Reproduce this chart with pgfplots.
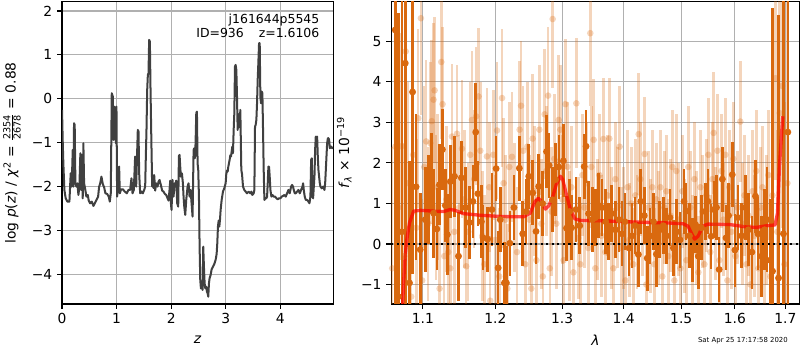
\documentclass[border=0pt]{standalone}
\usepackage{fontspec}
\setmainfont{DejaVu Sans}
\usepackage{pgfplots}
\pgfplotsset{compat=1.18}
\usepackage{pgfplotstable}

\definecolor{pzline}{HTML}{404040}
\definecolor{dorange}{HTML}{D9690F}
\definecolor{gridc}{HTML}{B0B0B0}

\pgfplotsset{
  mpl/.style={
    scale only axis,
    axis line style={line width=0.8pt},
    tick align=outside,
    xtick pos=bottom, ytick pos=left,
    major tick length=3.5pt,
    every tick/.style={black, line width=0.8pt},
    grid=major,
    major grid style={gridc, line width=0.8pt},
    tick label style={font=\fontsize{10}{12}\selectfont},
    label style={font=\fontsize{10}{12}\selectfont},
  }
}

\pgfplotstableread{
x y e
1.0640 5.28 7.0
1.0680 -1.30 7.0
1.0725 0.30 6.5
1.0769 4.46 6.0
1.0824 -0.96 3.0
1.0864 3.75 4.5
1.0910 1.41 1.8
1.0964 -0.14 1.4
1.1030 0.60 1.3
1.1070 1.10 1.1
1.1110 1.73 1.0
1.1141 0.76 1.1
1.1185 0.37 1.0
1.1220 1.46 1.0
1.1260 2.33 1.0
1.1300 0.95 0.9
1.1327 0.23 1.0
1.1367 1.54 0.9
1.1425 1.67 1.0
1.1480 -0.30 1.1
1.1520 1.63 0.9
1.1580 0.90 1.0
1.1630 0.53 0.9
1.1680 1.05 0.9
1.1720 2.76 1.2
1.1750 1.24 0.8
1.1800 0.55 0.9
1.1825 0.15 0.8
1.1890 0.12 0.8
1.1950 0.85 0.9
1.2010 1.86 0.8
1.2040 -0.59 0.9
1.2070 0.60 0.8
1.2130 -0.96 1.0
1.2160 -0.96 0.9
1.2210 0.02 0.8
1.2270 0.90 0.8
1.2350 1.87 0.8
1.2400 0.25 0.8
1.2450 0.80 0.8
1.2490 1.67 0.8
1.2550 1.26 0.8
1.2600 0.31 0.8
1.2640 1.42 0.8
1.2700 1.00 0.8
1.2760 2.28 0.9
1.2800 1.94 0.8
1.2850 1.09 0.8
1.2900 1.59 0.9
1.2950 1.90 0.8
1.3020 2.05 0.9
1.3070 0.39 0.8
1.3120 0.80 0.8
1.3150 0.40 0.8
1.3220 0.85 0.8
1.3280 0.45 0.7
1.3350 1.91 0.8
1.3380 2.41 0.9
1.3420 0.75 0.8
1.3480 0.60 0.8
1.3530 0.65 0.7
1.3580 0.95 0.8
1.3640 0.90 0.7
1.3700 0.55 0.8
1.3750 0.30 0.7
1.3800 0.75 0.7
1.3860 0.35 0.7
1.3920 0.60 0.8
1.3970 0.25 0.8
1.4020 0.55 0.7
1.4090 -0.10 0.7
1.4140 0.20 0.8
1.4190 0.45 0.7
1.4248 -0.26 0.8
1.4290 1.05 0.8
1.4350 0.70 0.7
1.4400 -0.35 0.8
1.4450 0.20 0.7
1.4510 0.55 0.7
1.4560 -0.25 0.8
1.4620 0.35 0.7
1.4680 0.45 0.7
1.4740 0.20 0.7
1.4800 0.65 0.7
1.4860 -0.10 0.7
1.4920 0.30 0.8
1.4980 0.10 0.7
1.5050 1.05 0.8
1.5090 0.81 0.7
1.5150 0.20 0.8
1.5210 -0.15 0.8
1.5260 0.48 0.7
1.5310 -0.30 0.8
1.5370 0.40 0.8
1.5440 0.80 0.7
1.5490 1.05 0.8
1.5550 0.19 0.8
1.5600 0.85 0.7
1.5650 0.90 0.8
1.5700 -0.63 0.8
1.5760 1.60 0.8
1.5830 0.15 0.8
1.5880 0.70 0.8
1.5950 1.71 0.8
1.6000 -0.15 0.9
1.6060 0.65 0.8
1.6130 0.20 0.8
1.6200 0.90 0.8
1.6260 0.35 0.9
1.6330 -0.20 0.9
1.6400 1.18 0.9
1.6450 0.25 0.9
1.6520 -0.30 1.0
1.6580 0.35 1.0
1.6630 0.60 1.3
1.6690 -0.40 1.5
1.6740 -0.67 6.5
1.6860 -0.84 6.5
1.6960 0.25 6.0
1.7050 2.76 8.0
}\darkdata

\pgfplotstableread{
x y e
1.0602 -0.60 3.0
1.0640 2.40 3.0
1.0678 0.90 3.0
1.0717 2.41 2.8
1.0756 -0.30 2.8
1.0775 4.75 2.8
1.0807 1.50 2.5
1.0846 -1.30 2.5
1.0872 2.20 2.4
1.0912 0.40 2.2
1.0938 3.10 2.2
1.0973 5.57 2.4
1.0990 -0.90 2.0
1.1017 1.90 2.0
1.1043 2.53 2.0
1.1070 0.50 1.9
1.1097 2.49 2.0
1.1117 3.03 2.0
1.1141 3.56 1.9
1.1155 3.79 1.8
1.1177 0.90 1.8
1.1197 1.40 1.8
1.1222 -1.10 1.8
1.1245 4.49 1.9
1.1262 3.45 1.9
1.1285 -0.30 1.7
1.1313 1.10 1.8
1.1340 -0.20 1.7
1.1367 -0.60 1.8
1.1390 2.65 1.8
1.1422 0.30 1.8
1.1459 2.72 1.7
1.1490 0.90 1.8
1.1528 2.35 1.7
1.1560 1.10 1.7
1.1587 -0.55 1.8
1.1615 0.30 1.7
1.1643 2.20 1.8
1.1667 3.06 1.7
1.1699 1.60 1.7
1.1727 3.15 1.7
1.1760 3.64 1.7
1.1784 2.30 1.7
1.1812 0.20 1.6
1.1841 -0.50 1.7
1.1879 2.16 1.7
1.1912 1.40 1.6
1.1926 -1.40 1.6
1.1970 2.20 1.6
1.1998 0.10 1.6
1.2023 2.80 1.7
1.2056 -0.80 1.7
1.2096 3.60 1.7
1.2119 1.50 1.6
1.2144 0.60 1.6
1.2173 -1.10 1.6
1.2202 1.90 1.6
1.2241 2.15 1.6
1.2275 0.90 1.6
1.2315 -0.20 1.6
1.2354 2.82 1.7
1.2375 3.41 1.6
1.2408 2.30 1.6
1.2438 -0.50 1.6
1.2468 2.40 1.6
1.2499 0.60 1.6
1.2529 -1.10 1.6
1.2549 2.60 1.6
1.2574 1.30 1.6
1.2605 -0.40 1.6
1.2650 2.82 1.6
1.2680 0.50 1.6
1.2703 -0.80 1.6
1.2731 3.20 1.6
1.2757 1.80 1.6
1.2783 3.66 1.7
1.2810 -0.60 1.6
1.2833 0.80 1.6
1.2854 5.55 1.7
1.2880 2.10 1.6
1.2911 0.50 1.6
1.2947 3.06 1.6
1.2973 2.82 1.6
1.3004 1.10 1.6
1.3025 -0.40 1.6
1.3052 3.45 1.6
1.3083 1.90 1.6
1.3114 0.20 1.6
1.3146 1.40 1.5
1.3178 -0.70 1.5
1.3225 3.47 1.6
1.3257 0.15 1.5
1.3289 -0.50 1.5
1.3321 1.70 1.5
1.3353 0.90 1.5
1.3385 1.50 1.5
1.3417 -0.10 1.5
1.3449 5.20 1.8
1.3465 1.90 1.5
1.3503 2.57 1.5
1.3530 -0.60 1.5
1.3563 0.60 1.5
1.3596 1.70 1.5
1.3628 0.20 1.5
1.3661 2.59 1.5
1.3694 -0.20 1.5
1.3727 1.20 1.5
1.3760 2.60 1.5
1.3793 0.40 1.5
1.3826 -0.60 1.5
1.3860 1.60 1.4
1.3893 0.90 1.5
1.3931 2.40 1.5
1.3960 -0.10 1.5
1.3994 0.40 1.5
1.4027 -0.90 1.4
1.4061 1.40 1.4
1.4094 0.10 1.4
1.4128 1.00 1.4
1.4162 -0.50 1.4
1.4197 1.20 1.4
1.4222 0.30 1.4
1.4253 2.71 1.5
1.4282 1.60 1.4
1.4316 0.60 1.4
1.4356 2.22 1.4
1.4385 -1.00 1.4
1.4420 0.90 1.4
1.4454 0.20 1.4
1.4489 1.40 1.4
1.4524 -0.50 1.4
1.4559 1.10 1.4
1.4594 0.40 1.4
1.4629 1.40 1.4
1.4664 -0.80 1.4
1.4700 0.90 1.4
1.4735 1.30 1.4
1.4771 -0.30 1.4
1.4806 0.70 1.4
1.4842 1.90 1.4
1.4878 -0.90 1.4
1.4913 1.80 1.4
1.4949 0.60 1.4
1.4985 -0.60 1.4
1.5021 1.30 1.4
1.5057 0.20 1.4
1.5094 -0.40 1.4
1.5130 1.90 1.5
1.5166 0.90 1.4
1.5203 -0.20 1.4
1.5240 1.60 1.4
1.5277 0.40 1.4
1.5313 -0.70 1.4
1.5350 1.40 1.4
1.5387 0.80 1.4
1.5424 -0.50 1.4
1.5461 1.20 1.4
1.5498 2.20 1.4
1.5535 -0.20 1.4
1.5573 1.60 1.4
1.5597 2.74 1.5
1.5629 0.50 1.4
1.5667 2.30 1.4
1.5704 -0.40 1.4
1.5742 1.80 1.4
1.5780 0.60 1.4
1.5818 2.20 1.4
1.5856 -0.90 1.4
1.5894 1.40 1.4
1.5932 0.30 1.4
1.5970 2.10 1.4
1.6009 -0.30 1.4
1.6047 0.90 1.4
1.6105 3.02 1.5
1.6144 0.50 1.5
1.6183 1.20 1.5
1.6222 -0.50 1.5
1.6260 0.70 1.5
1.6299 -1.00 1.5
1.6339 1.30 1.5
1.6378 0.20 1.5
1.6418 1.80 1.5
1.6457 -0.60 1.5
1.6497 0.90 1.5
1.6537 1.40 1.5
1.6577 -0.30 1.6
1.6617 0.60 1.6
1.6657 1.70 1.6
1.6697 -0.80 1.7
1.6737 1.20 1.8
1.6797 4.09 2.5
1.6838 0.30 2.5
1.6884 3.23 3.0
1.6932 3.90 3.5
1.6980 -0.50 4.0
1.7041 1.50 5.0
}\lightdata

\begin{document}
\begin{tikzpicture}[x=0.01in, y=0.01in]

% ---------------- left panel: log p(z)
\begin{axis}[mpl,
  at={(0.62in,0.46in)}, anchor=south west,
  width=2.71in, height=3.02in,
  xmin=0, xmax=4.967, ymin=-4.68, ymax=2.21,
  xtick={0,1,2,3,4}, xticklabels={0,1,2,3,4},
  ytick={-4,-3,-2,-1,0,1,2}, yticklabels={−4,−3,−2,−1,0,1,2},
  xlabel={\textit{z}},
  ylabel={log \textit{p}(\textit{z}) / \textit{χ}\textsuperscript{2} = $\frac{\mbox{\fontsize{7}{7}\selectfont 2354}}{\mbox{\fontsize{7}{7}\selectfont 2678}}$ = 0.88},
  xlabel style={at={(axis description cs:0.5,-0.119)}, anchor=center},
  ylabel style={at={(axis description cs:-0.185,0.5)}, anchor=center},
]
\addplot[pzline, line width=1.45pt, line join=round] coordinates {
(0.000,-0.255) (0.012,-0.939) (0.024,-1.471) (0.043,-2.080) (0.067,-2.270)
(0.098,-2.346) (0.135,-2.346) (0.159,-1.700) (0.177,-2.004) (0.196,-1.167)
(0.208,-2.004) (0.220,-0.559) (0.232,-0.597) (0.245,-1.928) (0.263,-2.004)
(0.281,-1.928) (0.300,-2.194) (0.318,-2.004) (0.336,-1.243) (0.349,-2.080)
(0.367,-1.281) (0.379,-2.270) (0.391,-1.015) (0.404,-1.928) (0.422,-2.042)
(0.446,-2.232) (0.471,-2.194) (0.489,-2.323) (0.514,-2.384) (0.544,-2.346)
(0.575,-2.445) (0.606,-2.369) (0.636,-2.293) (0.661,-2.232) (0.679,-2.004)
(0.697,-1.943) (0.722,-1.776) (0.746,-1.943) (0.771,-2.019) (0.795,-2.156)
(0.826,-2.171) (0.856,-2.232) (0.875,-2.346) (0.893,-2.156) (0.911,0.125)
(0.930,0.049) (0.942,-0.939) (0.954,-0.179) (0.972,-0.217) (0.985,-1.015)
(0.997,-0.179) (1.009,-2.232) (1.028,-2.004) (1.046,-1.548) (1.058,-2.156)
(1.083,-2.065) (1.113,-2.065) (1.150,-2.118) (1.187,-2.156) (1.217,-2.080)
(1.248,-2.080) (1.272,-1.814) (1.291,-2.156) (1.315,-2.080) (1.339,-1.319)
(1.358,-2.004) (1.370,-1.471) (1.388,-0.711) (1.401,-0.749) (1.413,-1.700)
(1.431,-2.156) (1.456,-2.118) (1.480,-2.156) (1.505,-2.080) (1.523,-2.004)
(1.535,-1.319) (1.547,-0.711) (1.560,0.202) (1.572,0.544) (1.584,0.582)
(1.596,1.342) (1.609,1.304) (1.621,0.202) (1.633,-0.711) (1.651,-2.004)
(1.664,-1.750) (1.676,-2.040) (1.688,-1.740) (1.706,-2.095) (1.725,-1.928)
(1.749,-2.004) (1.768,-1.890) (1.786,-1.852) (1.810,-1.966) (1.835,-2.095)
(1.859,-2.118) (1.884,-2.171) (1.908,-2.194) (1.933,-2.270) (1.951,-2.323)
(1.969,-2.080) (1.982,-1.867) (1.994,-2.384) (2.006,-2.536) (2.024,-1.852)
(2.043,-2.232) (2.061,-1.928) (2.073,-2.004) (2.092,-1.867) (2.110,-2.384)
(2.128,-2.460) (2.141,-1.304) (2.153,-1.281) (2.165,-1.548) (2.177,-1.776)
(2.196,-1.700) (2.214,-1.928) (2.226,-2.232) (2.239,-2.460) (2.257,-2.650)
(2.275,-2.308) (2.300,-2.004) (2.318,-1.928) (2.336,-2.232) (2.355,-2.080)
(2.373,-2.384) (2.391,-2.688) (2.410,-1.167) (2.422,-1.129) (2.434,-1.357)
(2.446,-1.015) (2.459,-0.331) (2.471,-0.293) (2.483,-1.471) (2.495,-1.624)
(2.508,-2.232) (2.520,-3.373) (2.532,-4.133) (2.544,-4.323) (2.563,-4.285)
(2.575,-4.361) (2.587,-3.373) (2.599,-3.829) (2.612,-4.209) (2.624,-4.323)
(2.642,-4.285) (2.654,-4.399) (2.667,-4.437) (2.679,-4.513) (2.691,-4.209)
(2.703,-4.095) (2.722,-4.019) (2.740,-3.890) (2.765,-3.829) (2.789,-3.768)
(2.813,-3.677) (2.832,-3.540) (2.844,-3.297) (2.856,-2.916) (2.869,-2.779)
(2.881,-2.916) (2.893,-2.764) (2.905,-2.536) (2.924,-2.308) (2.948,-2.118)
(2.972,-2.042) (2.997,-1.928) (3.009,-1.715) (3.021,-1.639) (3.034,-1.662)
(3.046,-1.548) (3.058,-1.471) (3.070,-1.395) (3.083,-1.289) (3.095,-1.319)
(3.107,-1.205) (3.119,-1.091) (3.131,-1.243) (3.144,-0.711) (3.156,-0.331)
(3.168,0.734) (3.180,0.772) (3.193,0.658) (3.205,0.049) (3.217,-0.711)
(3.229,-0.483) (3.242,-0.350) (3.254,-0.650) (3.266,-0.255) (3.284,-1.624)
(3.297,-1.715) (3.315,-2.004) (3.339,-2.080) (3.364,-2.118) (3.388,-2.156)
(3.419,-2.118) (3.450,-2.156) (3.468,-2.118) (3.486,-2.194) (3.511,-2.156)
(3.523,-2.080) (3.535,-0.635) (3.547,-0.597) (3.560,-0.483) (3.572,-0.103)
(3.584,0.430) (3.596,0.810) (3.609,1.266) (3.621,1.266) (3.633,0.049)
(3.645,-0.103) (3.658,0.163) (3.670,0.125) (3.682,-0.711) (3.694,-1.624)
(3.707,-2.308) (3.725,-2.270) (3.743,-2.270) (3.756,-2.232) (3.768,-1.928)
(3.780,-1.548) (3.792,-1.548) (3.804,-1.776) (3.817,-2.080) (3.835,-2.232)
(3.853,-2.194) (3.878,-2.232) (3.902,-2.232) (3.927,-2.270) (3.951,-2.293)
(3.976,-2.270) (4.000,-2.270) (4.024,-2.232) (4.049,-2.217) (4.073,-2.194)
(4.098,-2.232) (4.122,-2.156) (4.147,-2.080) (4.171,-2.156) (4.196,-2.004)
(4.214,-1.966) (4.232,-2.004) (4.245,-2.080) (4.263,-2.156) (4.281,-2.156)
(4.306,-2.118) (4.330,-2.080) (4.355,-2.156) (4.379,-2.080) (4.404,-2.004)
(4.416,-1.928) (4.428,-2.080) (4.446,-2.232) (4.465,-2.308) (4.489,-2.308)
(4.514,-2.346) (4.532,-2.384) (4.550,-2.232) (4.563,-1.395) (4.575,-1.357)
(4.587,-2.232) (4.599,-2.270) (4.612,-2.004) (4.624,-1.776) (4.636,-1.167)
(4.648,-0.863) (4.661,-0.939) (4.673,-0.863) (4.685,-1.319) (4.697,-1.624)
(4.709,-1.776) (4.722,-1.928) (4.734,-2.004) (4.758,-2.042) (4.783,-2.004)
(4.807,-2.080) (4.820,-1.928) (4.832,-1.624) (4.844,-1.319) (4.856,-1.015)
(4.869,-0.901) (4.881,-0.901) (4.893,-0.939) (4.905,-1.129) (4.930,-1.091)
(4.948,-1.129) (4.966,-1.106)
};
\node[anchor=north east, align=right, inner sep=0pt, font=\fontsize{9}{10.8}\selectfont]
  at (rel axis cs:0.95,0.962) {j161644p5545\\ID=936\hspace{1.2em}z=1.6106};
\end{axis}

% ---------------- right panel: spectrum
\begin{axis}[mpl,
  at={(3.91in,0.46in)}, anchor=south west,
  width=4.08in, height=3.02in,
  xmode=log,
  xmin=1.0589, xmax=1.7289, ymin=-1.48, ymax=5.975,
  xtick={1.1,1.2,1.3,1.4,1.5,1.6,1.7},
  xticklabels={1.1,1.2,1.3,1.4,1.5,1.6,1.7},
  ytick={-1,0,1,2,3,4,5}, yticklabels={−1,0,1,2,3,4,5},
  xlabel={\textit{λ}},
  ylabel={\textit{f}\textsubscript{\textit{λ}} × 10\textsuperscript{−19}},
  xlabel style={at={(axis description cs:0.5,-0.119)}, anchor=center},
  ylabel style={at={(axis description cs:-0.115,0.5)}, anchor=center},
]
\addplot[dorange, only marks, mark=*, mark size=2.4pt,
  mark options={fill=dorange, fill opacity=0.28, draw opacity=0},
  error bars/.cd, y dir=both, y explicit, error mark=none,
  error bar style={line width=1.8pt, draw=dorange, opacity=0.28}]
  table[x=x, y=y, y error=e] {\lightdata};
\addplot[dorange, only marks, mark=*, mark size=2.5pt,
  mark options={fill=dorange, draw opacity=0},
  error bars/.cd, y dir=both, y explicit, error mark=none,
  error bar style={line width=1.9pt, draw=dorange}]
  table[x=x, y=y, y error=e] {\darkdata};
\addplot[red, opacity=0.7, line width=2.4pt, line join=round] coordinates {
(1.0735,-1.50) (1.0747,-0.96) (1.0767,-0.30) (1.0789,0.11) (1.0824,0.52)
(1.0877,0.81) (1.0964,0.83) (1.1141,0.81) (1.1275,0.80) (1.1366,0.85)
(1.1435,0.83) (1.1546,0.75) (1.1776,0.71) (1.2057,0.68) (1.2294,0.67)
(1.2414,0.67) (1.2512,0.76) (1.2585,1.05) (1.2634,1.13) (1.2683,1.05)
(1.2743,0.86) (1.2794,0.94) (1.2858,1.18) (1.2909,1.46) (1.2976,1.67)
(1.3011,1.59) (1.3062,1.26) (1.3130,0.85) (1.3202,0.62) (1.3296,0.58)
(1.3668,0.57) (1.4222,0.54) (1.4739,0.52) (1.5034,0.50) (1.5124,0.44)
(1.5184,0.27) (1.5244,0.12) (1.5306,0.19) (1.5398,0.44) (1.5491,0.49)
(1.5899,0.48) (1.6223,0.42) (1.6421,0.41) (1.6622,0.45) (1.6790,0.47)
(1.6839,0.76) (1.6880,1.91) (1.6913,2.57) (1.6948,3.15)
};
\addplot[black, line width=1.5pt, dash pattern=on 1.5pt off 2.5pt] coordinates {(1.0589,0) (1.7289,0)};
\end{axis}

\node[anchor=base east, inner sep=0pt, font=\fontsize{5}{6}\selectfont] at (788,8) {Sat Apr 25 17:17:58 2020};

\pgfresetboundingbox
\useasboundingbox (0,0) rectangle (800,350);
\end{tikzpicture}
\end{document}
